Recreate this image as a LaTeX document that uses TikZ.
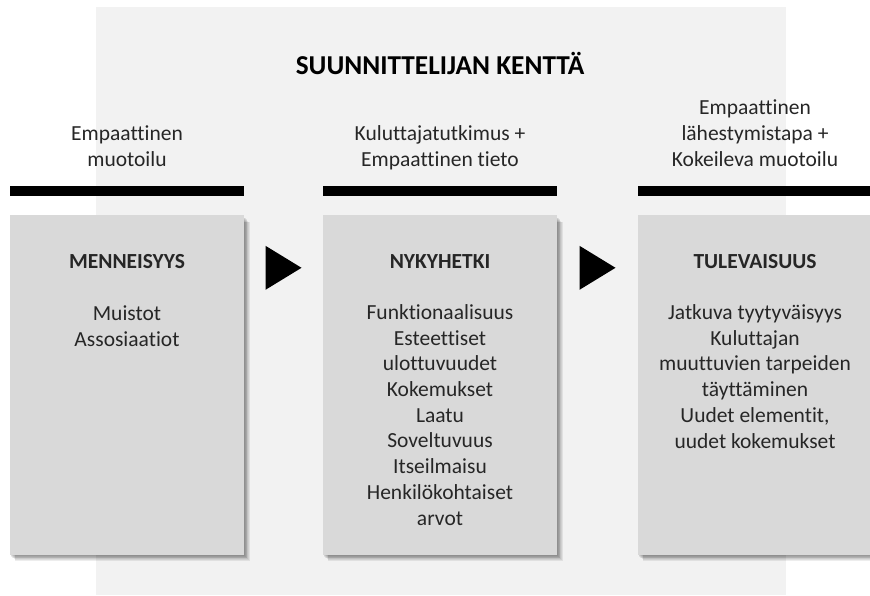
\documentclass[tikz,border=0pt]{standalone}
\usepackage{fontspec}
\setmainfont{Carlito}[Ligatures=NoCommon]
\usetikzlibrary{calc}
\definecolor{field}{HTML}{F2F2F2}
\definecolor{boxfill}{HTML}{D9D9D9}
\definecolor{ink}{HTML}{262626}
\pgfdeclarelayer{back}
\pgfdeclarelayer{shade}
\pgfsetlayers{back,shade,main}
\tikzset{
  box/.style={fill=boxfill, minimum width=234pt, minimum height=340pt, inner sep=0pt},
  bar/.style={fill=black, minimum width=234pt, minimum height=10pt, inner sep=0pt},
  txt/.style={font=\fontsize{21.5}{25.7}\selectfont, text=ink, align=center, anchor=base, inner sep=0pt},
  tit/.style={txt, font=\fontsize{21.5}{25.7}\selectfont\bfseries},
  big/.style={txt, text=black, font=\fontsize{27.3}{32}\selectfont\bfseries},
  tri/.style={fill=black}
}
\newcommand{\boxshade}[1]{%
  \begin{pgfonlayer}{shade}
    \foreach \k in {1,...,7}
      \fill[black, opacity=0.07] ($(#1.north west)+(\k*0.8,\k*0.8+2)$) rectangle ($(#1.south east)+(\k*0.8,\k*0.8)$);
  \end{pgfonlayer}}
\newcommand{\steptri}[2]{\fill[tri] ($(#1.north east)!.5!(#2.north west)+(-18,31)$) -- ++(36,22) -- ++(-36,22) -- cycle;}

\begin{document}
\begin{tikzpicture}[x=1pt, y=-1pt]
	\useasboundingbox (0,0) rectangle (870,595);
	\begin{pgfonlayer}{back}
		\fill[field] (96,7) rectangle (786,595);
	\end{pgfonlayer}
	% multi-line texts sit on the baseline of their last line
	\node[big] (title) at (440,74) {SUUNNITTELIJAN KENTTÄ};
	\node[txt] (hpast) at (127,166) {Empaattinen\\muotoilu};
	\node[txt] (hnow) at (440,166) {Kuluttajatutkimus +\\Empaattinen tieto};
	\node[txt] (hnext) at (755,166) {Empaattinen\\lähestymistapa +\\Kokeileva muotoilu};
	\node[bar] (barpast) at (127,191) {};
	\node[bar] (barnow) at (440,191) {};
	\node[bar] (barnext) at (755,191) {};
	\node[box] (past) at (127,385) {};
	\node[box] (now) at (440,385) {};
	\node[box] (next) at (755,385) {};
	\boxshade{past}
	\boxshade{now}
	\boxshade{next}
	\steptri{past}{now}
	\steptri{now}{next}
	\node[tit] (tpast) at (127,268) {MENNEISYYS};
	\node[tit] (tnow) at (440,268) {NYKYHETKI};
	\node[tit] (tnext) at (755,268) {TULEVAISUUS};
	\node[txt] (lpast) at (127,346) {Muistot\\Assosiaatiot};
	\node[txt] (lnow) at (440,525) {Funktionaalisuus\\Esteettiset\\ulottuvuudet\\Kokemukset\\Laatu\\Soveltuvuus\\Itseilmaisu\\Henkilökohtaiset\\arvot};
	\node[txt] (lnext) at (755,448) {Jatkuva tyytyväisyys\\Kuluttajan\\muuttuvien tarpeiden\\täyttäminen\\Uudet elementit,\\uudet kokemukset};
\end{tikzpicture}
\end{document}
